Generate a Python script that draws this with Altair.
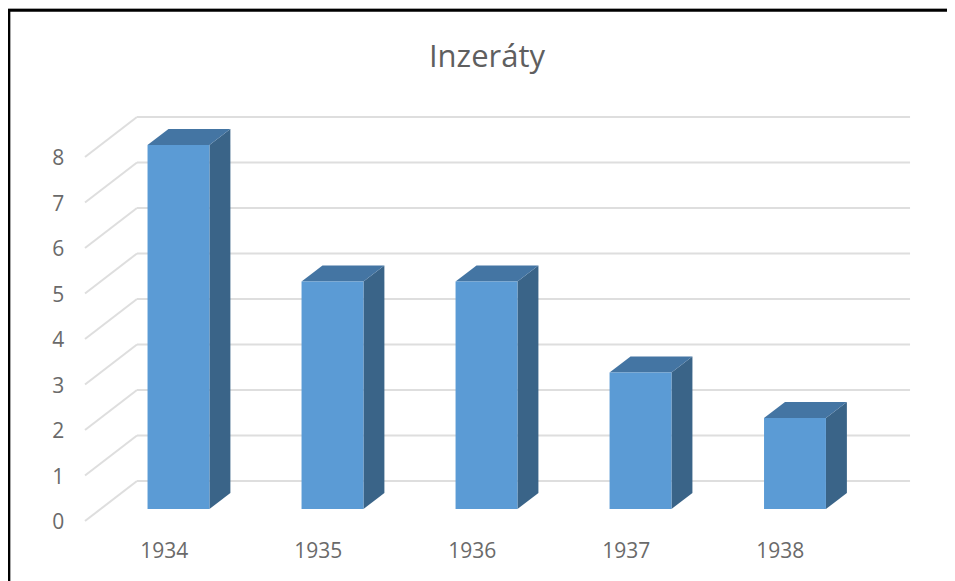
import altair as alt
import pandas as pd

TITLE = "Inzeráty"
YEARS = ["1934", "1935", "1936", "1937", "1938"]
VALUES = [8, 5, 5, 3, 2]
TICKS = [0, 1, 2, 3, 4, 5, 6, 7, 8]

FRONT = "#5B9BD5"
SIDE = "#3A6488"
TOP = "#4475A3"
GRID = "#DEDEDE"
TEXT = "#6A6A6A"

# Projection of the pseudo-3D scene, in axis units
HALF = 0.201
DX, DY = 0.136, 0.35        # bar depth
WALL_DY = 0.615             # lift of the back wall above the bar fronts
WALL_L, WALL_R = -0.2695, 4.75
FLOOR_L, FLOOR_DY = -0.607, -0.264

X_MIN, X_MAX = -1.107, 4.990
Y_MIN, Y_MAX = -1.582, 11.01
XS = alt.Scale(domain=[X_MIN, X_MAX], nice=False, zero=False)
YS = alt.Scale(domain=[Y_MIN, Y_MAX], nice=False, zero=False)


def X(f="x"):
    return alt.X(f, type="quantitative", scale=XS, axis=None)


def Y(f="y"):
    return alt.Y(f, type="quantitative", scale=YS, axis=None)


centers = [i + (0.003 if i == 4 else 0) for i in range(len(YEARS))]

wall = pd.DataFrame({"x": [WALL_L] * len(TICKS), "x2": [WALL_R] * len(TICKS),
                     "y": [t + WALL_DY for t in TICKS]})
floor = pd.DataFrame({"x": [FLOOR_L] * len(TICKS), "x2": [WALL_L] * len(TICKS),
                      "y": [t + FLOOR_DY for t in TICKS],
                      "y2": [t + WALL_DY for t in TICKS]})
front = pd.DataFrame({"x": [c - HALF for c in centers], "x2": [c + HALF for c in centers],
                      "y": VALUES, "y2": [0] * len(VALUES)})

side_rows, top_rows = [], []
for yr, c, v in zip(YEARS, centers, VALUES):
    side_rows += [{"k": yr, "x": c + HALF, "y": v, "y2": 0},
                  {"k": yr, "x": c + HALF + DX, "y": v + DY, "y2": DY}]
    top_rows += [{"k": yr, "y": v, "x": c - HALF, "x2": c + HALF},
                 {"k": yr, "y": v + DY, "x": c - HALF + DX, "x2": c + HALF + DX}]
side = pd.DataFrame(side_rows)
top = pd.DataFrame(top_rows)

ytext = pd.DataFrame({"x": [-0.78] * len(TICKS), "y": [t + FLOOR_DY - 0.05 for t in TICKS],
                      "t": [str(t) for t in TICKS]})
xtext = pd.DataFrame({"x": [c - 0.092 for c in range(len(YEARS))], "y": [-0.945] * len(YEARS),
                      "t": YEARS})
frame_top = pd.DataFrame({"x": [X_MIN], "x2": [X_MAX], "y": [10.96]})
frame_left = pd.DataFrame({"x": [-1.1015], "y": [Y_MIN], "y2": [10.99]})

layers = [
    alt.Chart(wall).mark_rule(color=GRID, strokeWidth=2).encode(x=X(), x2="x2", y=Y()),
    alt.Chart(floor).mark_rule(color=GRID, strokeWidth=2).encode(x=X(), x2="x2", y=Y(), y2="y2"),
    alt.Chart(side).mark_area(color=SIDE, interpolate="linear", opacity=1).encode(
        x=X(), y=Y(), y2="y2", detail="k:N"),
    alt.Chart(top).mark_area(color=TOP, interpolate="linear", orient="horizontal", opacity=1).encode(
        y=Y(), x=X(), x2="x2", detail="k:N"),
    alt.Chart(front).mark_rect(color=FRONT).encode(x=X(), x2="x2", y=Y(), y2="y2"),
    alt.Chart(ytext).mark_text(font="Open Sans", fontSize=21, color=TEXT, align="center",
                               baseline="middle").encode(x=X(), y=Y(), text="t:N"),
    alt.Chart(xtext).mark_text(font="Open Sans", fontSize=21, color=TEXT, align="center",
                               baseline="middle").encode(x=X(), y=Y(), text="t:N"),
    alt.Chart(frame_top).mark_rule(color="#000000", strokeWidth=3).encode(x=X(), x2="x2", y=Y()),
    alt.Chart(frame_left).mark_rule(color="#000000", strokeWidth=3).encode(x=X(), y=Y(), y2="y2"),
]

chart = (
    alt.layer(*layers)
    .properties(
        width=939,
        height=573,
        padding=0,
        autosize=alt.AutoSizeParams(type="none"),
        title=alt.TitleParams(TITLE, font="Open Sans", fontSize=31, fontWeight="normal",
                              color="#5F5F5F", anchor="middle", frame="group",
                              baseline="middle", offset=0, dx=9.5, dy=82),
    )
    .configure_view(stroke=None)
    .configure(background="#ffffff")
)

chart.save("out.html", embed_options={"renderer": "svg", "actions": False})
